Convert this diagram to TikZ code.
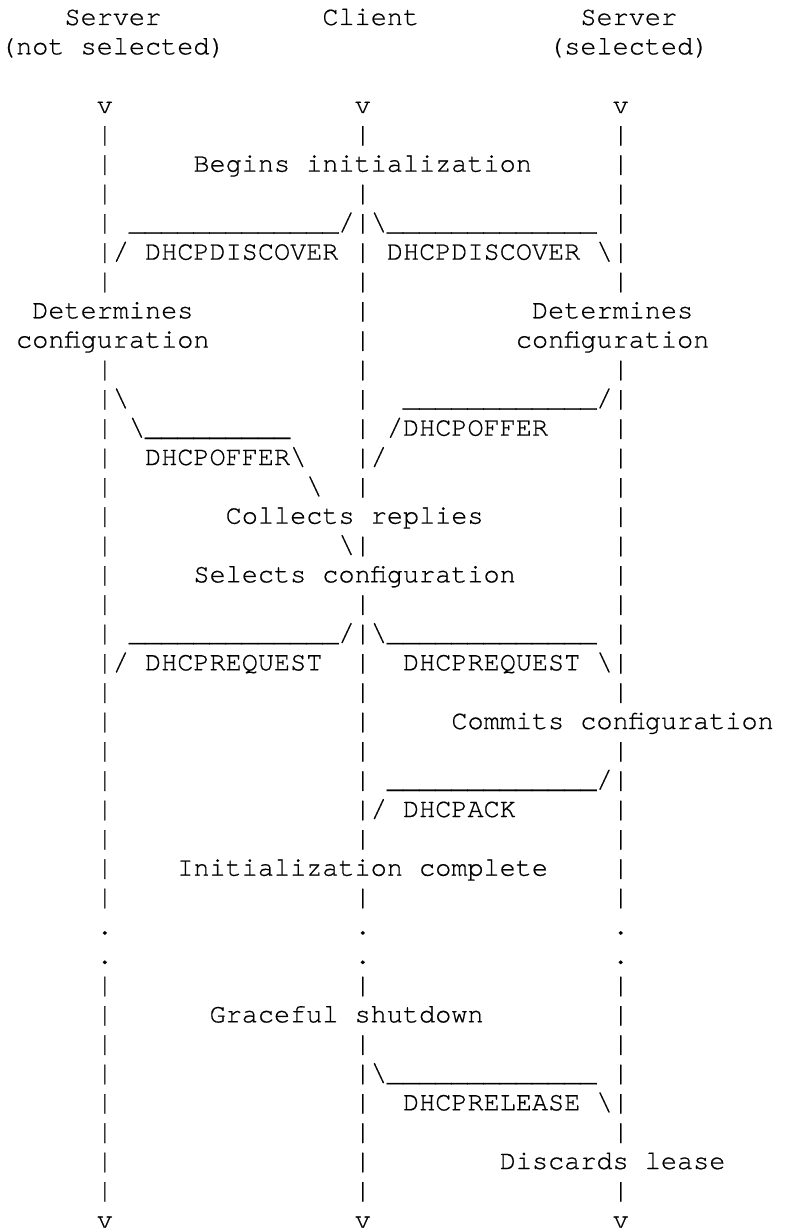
\documentclass[tikz,border=0pt]{standalone}
\usepackage{fontspec}
\newfontfamily\asciifont[FakeBold=0.6]{TeX Gyre Cursor}
\ExplSyntaxOn
\NewDocumentCommand\underrun{m}{\prg_replicate:nn{#1}{\textunderscore}}
\ExplSyntaxOff
\newcommand\bsl{\textbackslash}
\begin{document}
\begin{tikzpicture}[x=8.0612pt,y=-14.6667pt]
\tikzstyle{every node}+=[inner sep=0pt,outer sep=0pt,anchor=base west,font=\asciifont\fontsize{13.43pt}{14.67pt}\selectfont]
\fill [white] (0,0.148) rectangle (49,42.148);
\useasboundingbox (0,0.148) rectangle (49,42.148);
\node (srvA) at (4,1) {Server};
\node (client) at (20,1) {Client};
\node (srvB) at (36,1) {Server};
\node (notsel) at (0,2) {(not selected)};
\node (sel) at (34,2) {(selected)};
\foreach \c/\n in {6/l,22/c,38/r} {
  \node (\n-top) at (\c,4) {v};
  \node (\n-dotA) at (\c,32) {.};
  \node (\n-dotB) at (\c,33) {.};
  \node (\n-end) at (\c,42) {v};
}
\foreach \a/\b in {5/10,13/31,34/41}
  \foreach \r in {\a,...,\b}
    \node (lbar\r) at (6,\r) {|};
\foreach \a/\b in {5/5,7/17,19/19,21/29,31/31,34/34,36/41}
  \foreach \r in {\a,...,\b}
    \node (cbar\r) at (22,\r) {|};
\foreach \a/\b in {5/10,13/24,26/31,34/39,41/41}
  \foreach \r in {\a,...,\b}
    \node (rbar\r) at (38,\r) {|};
\node (begins) at (12,6) {Begins initialization};
\node (discL) at (8,8) {\underrun{13}/};
\node (discR) at (23,8) {\bsl\underrun{13}};
\node (discLtxt) at (7,9) {/ DHCPDISCOVER};
\node (discRtxt) at (24,9) {DHCPDISCOVER \bsl};
\node (detL) at (2,11) {Determines};
\node (detR) at (33,11) {Determines};
\node (cfgL) at (1,12) {configuration};
\node (cfgR) at (32,12) {configuration};
\node (offL1) at (7,14) {\bsl};
\node (offR1) at (25,14) {\underrun{12}/};
\node (offL2) at (8,15) {\bsl\underrun{9}};
\node (offRtxt) at (24,15) {/DHCPOFFER};
\node (offLtxt) at (9,16) {DHCPOFFER\bsl};
\node (offR2) at (23,16) {/};
\node (offL3) at (19,17) {\bsl};
\node (collects) at (14,18) {Collects replies};
\node (offL4) at (21,19) {\bsl};
\node (selects) at (12,20) {Selects configuration};
\node (reqL) at (8,22) {\underrun{13}/};
\node (reqR) at (23,22) {\bsl\underrun{13}};
\node (reqLtxt) at (7,23) {/ DHCPREQUEST};
\node (reqRtxt) at (25,23) {DHCPREQUEST \bsl};
\node (commits) at (28,25) {Commits configuration};
\node (ack) at (24,27) {\underrun{13}/};
\node (acktxt) at (23,28) {/ DHCPACK};
\node (initdone) at (11,30) {Initialization complete};
\node (shutdown) at (13,35) {Graceful shutdown};
\node (rel) at (23,37) {\bsl\underrun{13}};
\node (reltxt) at (25,38) {DHCPRELEASE \bsl};
\node (discards) at (31,40) {Discards lease};
\end{tikzpicture}
\end{document}
